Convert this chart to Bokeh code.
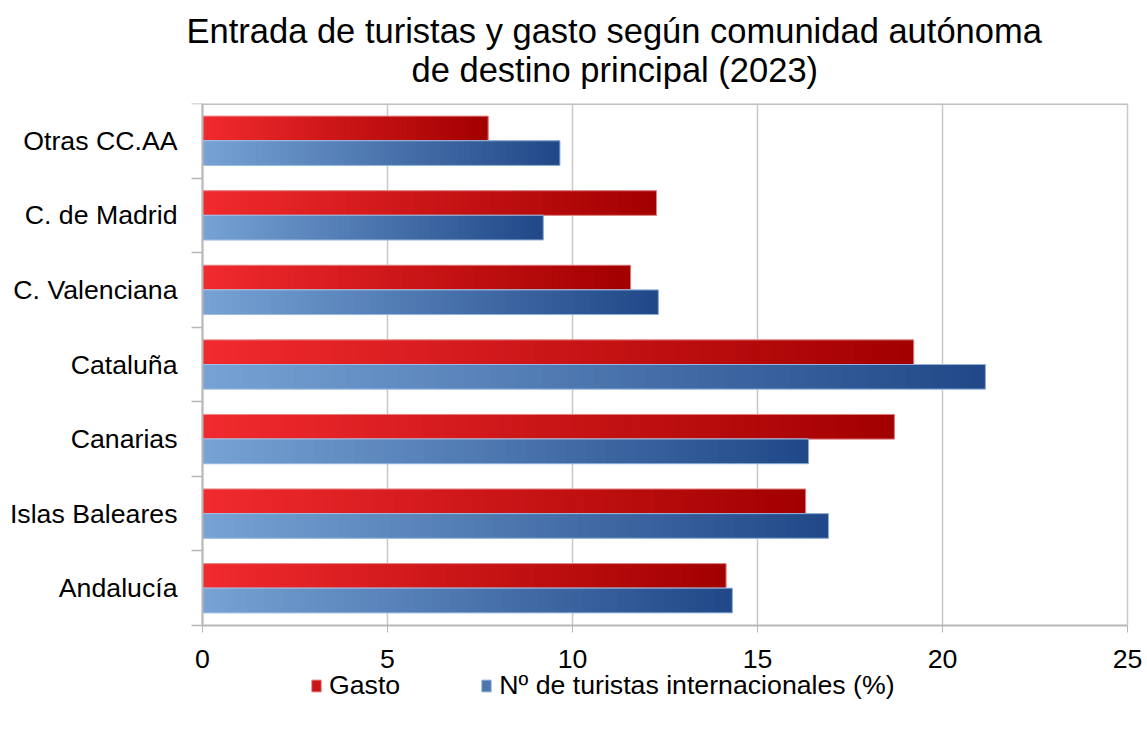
from bokeh.plotting import figure
from bokeh.models import Range1d, FixedTicker, Title, Legend, LegendItem, ColumnDataSource
from bokeh.core.properties import value
from bokeh.embed import file_html
from bokeh.resources import INLINE

categories = ["Andalucía", "Islas Baleares", "Canarias", "Cataluña",
              "C. Valenciana", "C. de Madrid", "Otras CC.AA"]
gasto = [14.15, 16.3, 18.7, 19.22, 11.57, 12.27, 7.72]
turistas = [14.32, 16.92, 16.38, 21.16, 12.32, 9.21, 9.66]
x_ticks = [0, 5, 10, 15, 20, 25]
x_tick_labels = ["0", "5", "10", "15", "20", "25"]
series_names = ["Gasto", "Nº de turistas internacionales (%)"]
title_lines = ["Entrada de turistas y gasto según comunidad autónoma",
               "de destino principal (2023)"]

FONT = "Liberation Sans"

# layout: the bar area is 925 x 522 px; the frame is larger so that the
# category labels, tick labels and legend (all clipped to the frame) fit in it
BAR_W, BAR_PX = 925, 522
PAD_L, PAD_R = 202, 16
FRAME_H = 605
pxx = BAR_W / 25.0
px = BAR_PX / 7.0
x_lo, x_hi = -PAD_L / pxx, 25 + PAD_R / pxx
y_lo = -(FRAME_H - BAR_PX) / px

p = figure(frame_width=BAR_W + PAD_L + PAD_R, frame_height=FRAME_H,
           min_border_left=0, min_border_right=0, min_border_top=103,
           min_border_bottom=0, output_backend="svg", toolbar_location=None,
           x_range=Range1d(x_lo, x_hi), y_range=Range1d(y_lo, 7),
           y_axis_location="right")
p.background_fill_color = "white"
p.border_fill_color = "white"
p.outline_line_color = None
p.xgrid.grid_line_color = None
p.ygrid.grid_line_color = None

centers = [i + 0.5 for i in range(len(categories))]
bar_h = 0.33

# vertical grid lines and top border over the bar area
p.segment(x0=x_ticks, y0=[0] * len(x_ticks), x1=x_ticks, y1=[7] * len(x_ticks),
          line_color="#c8c8c8", line_width=1.5)
p.segment(x0=[0], y0=[7], x1=[25], y1=[7], line_color="#c0c0c0", line_width=3)


def lerp(c1, c2, t):
    return "#%02x%02x%02x" % tuple(int(round(a + (b - a) * t)) for a, b in zip(c1, c2))


def gradient_bars(values, offset, c_left, c_right, outline):
    ys = [c + offset for c in centers]
    base = p.hbar(y=ys, left=0, right=values, height=bar_h,
                  fill_color=lerp(c_left, c_right, 0.5), line_color=outline)
    N = 60
    lefts, rights, yy, cols = [], [], [], []
    for c, v in zip(ys, values):
        for i in range(N):
            t = i / (N - 1)
            lefts.append(v * i / N)
            rights.append(min(v, v * (i + 2) / N))
            yy.append(c)
            cols.append(lerp(c_left, c_right, t))
    src = ColumnDataSource(dict(left=lefts, right=rights, y=yy, color=cols))
    p.hbar(y="y", left="left", right="right", height=bar_h, source=src,
           fill_color="color", line_color=None)
    p.hbar(y=ys, left=0, right=values, height=bar_h,
           fill_color=None, line_color=outline, line_width=1, line_alpha=0.8)
    return base


red_l, red_r = (240, 42, 46), (163, 0, 0)
blu_l, blu_r = (118, 162, 212), (33, 72, 136)
r1 = gradient_bars(gasto, bar_h / 2, red_l, red_r, "#e89a9a")
r2 = gradient_bars(turistas, -bar_h / 2, blu_l, blu_r, "#a8c4e6")

# x axis drawn at y = 0 inside the frame; its labels are text glyphs below it
xa = p.xaxis[0]
xa.fixed_location = 0
xa.bounds = (0, 25)
xa.ticker = FixedTicker(ticks=x_ticks)
xa.axis_line_color = "#b8b8b8"
xa.axis_line_width = 2
xa.major_tick_line_color = "#b8b8b8"
xa.major_tick_out = 7
xa.major_tick_in = 0
xa.minor_tick_line_color = None
xa.major_label_standoff = 0
xa.major_label_text_font_size = "1px"
xa.major_label_text_color = None
p.text(x=x_ticks, y=[-24 / px] * len(x_ticks), text=x_tick_labels,
       text_font=value(FONT), text_font_size="26.7px", text_color="black",
       text_align="center", text_baseline="top")

# y axis drawn at x = 0 (ticks at the category boundaries pointing left);
# the category names are text glyphs to its left
ya = p.yaxis[0]
ya.fixed_location = 0
ya.bounds = (0, 7)
ya.ticker = FixedTicker(ticks=centers, minor_ticks=list(range(len(categories) + 1)))
ya.axis_line_color = "#b8b8b8"
ya.axis_line_width = 2
ya.major_tick_line_color = None
ya.major_tick_out = 0
ya.major_tick_in = 0
ya.minor_tick_line_color = "#b8b8b8"
ya.minor_tick_line_width = 1.5
ya.minor_tick_out = 0
ya.minor_tick_in = 11
ya.major_label_standoff = 0
ya.major_label_text_font_size = "1px"
ya.major_label_text_color = None
p.text(x=[-25 / pxx] * len(categories), y=centers, text=categories,
       text_font=value(FONT), text_font_size="26.7px", text_color="black",
       text_align="right", text_baseline="middle")

# title: p.title is the outer line, the added Title sits next to the frame
p.title.text = title_lines[0]
p.title.text_font = FONT
p.title.text_font_size = "34.5px"
p.title.text_font_style = "normal"
p.title.text_color = "black"
p.title.align = "left"
p.title.offset = PAD_L - 16
p.title.standoff = -30
t2 = Title(text=title_lines[1], text_font=FONT, text_font_size="34.5px",
           text_font_style="normal", text_color="black", align="left",
           offset=PAD_L + 209, standoff=29)
p.add_layout(t2, "above")

# legend, inside the frame below the tick labels
legend = Legend(items=[LegendItem(label=series_names[0], renderers=[r1]),
                       LegendItem(label=series_names[1], renderers=[r2])],
                orientation="horizontal", location=(PAD_L + 108, FRAME_H + 103 - 701),
                glyph_width=12, glyph_height=15, label_standoff=7, spacing=80,
                padding=0, margin=0, border_line_color=None, background_fill_alpha=0,
                label_text_font=FONT, label_text_font_size="26.7px", label_text_color="black")
p.add_layout(legend, "center")

open("out.html", "w").write(file_html(p, INLINE))
